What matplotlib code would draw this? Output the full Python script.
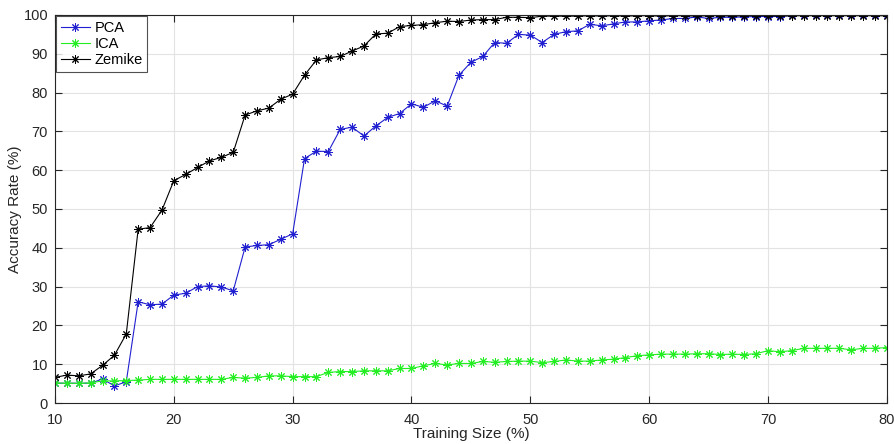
import numpy as np
import matplotlib.pyplot as plt

plt.rcParams['font.family'] = ['Liberation Sans', 'DejaVu Sans']

# training size (%)
train_size = list(range(10, 81))

pca = [5.1, 5.1, 5.1, 5.1, 6.2, 4.4, 5.5, 26.1, 25.3, 25.5,
       27.8, 28.3, 30.0, 30.2, 29.9, 28.9, 40.2, 40.6, 40.8, 42.2,
       43.6, 63.0, 64.9, 64.8, 70.5, 71.1, 68.8, 71.4, 73.6, 74.6,
       77.1, 76.2, 77.9, 76.5, 84.5, 87.8, 89.3, 92.9, 92.7, 95.0,
       94.8, 92.9, 95.0, 95.7, 95.9, 97.6, 97.2, 97.7, 98.2, 98.2,
       98.5, 98.7, 99.1, 99.1, 99.5, 99.1, 99.4, 99.4, 99.5, 99.6,
       99.6, 99.6, 99.9, 99.9, 99.9, 99.9, 99.9, 100.0, 99.9, 99.9,
       100.0]

ica = [5.2, 5.1, 5.1, 5.2, 5.7, 5.7, 5.8, 5.9, 6.1, 6.1,
       6.1, 6.1, 6.1, 6.1, 6.1, 6.6, 6.4, 6.6, 7.0, 7.0,
       6.8, 6.8, 6.8, 7.9, 8.1, 8.1, 8.3, 8.3, 8.3, 8.9,
       8.9, 9.6, 10.2, 9.8, 10.2, 10.2, 10.7, 10.5, 10.7, 10.8,
       10.8, 10.4, 10.7, 11.1, 10.8, 10.8, 11.1, 11.3, 11.7, 12.2,
       12.4, 12.6, 12.6, 12.6, 12.7, 12.7, 12.5, 12.6, 12.5, 12.7,
       13.5, 13.2, 13.5, 14.1, 14.1, 14.1, 14.1, 13.7, 14.1, 14.1,
       14.3]

zernike = [6.6, 7.2, 7.0, 7.5, 9.7, 12.3, 17.8, 44.8, 45.2, 49.7,
           57.3, 58.9, 60.7, 62.4, 63.3, 64.6, 74.2, 75.3, 76.0, 78.3,
           79.6, 84.5, 88.4, 89.0, 89.3, 90.7, 92.0, 95.1, 95.3, 97.0,
           97.3, 97.5, 98.0, 98.4, 98.3, 98.7, 98.8, 98.8, 99.4, 99.4,
           99.3, 99.7, 99.7, 99.7, 99.7, 99.8, 99.7, 99.8, 99.7, 99.8,
           99.8, 99.7, 99.8, 99.8, 99.7, 99.8, 99.8, 99.7, 99.8, 99.8,
           99.8, 99.7, 99.8, 99.8, 99.8, 99.8, 99.8, 99.8, 99.8, 99.8,
           99.8]

fig = plt.figure(figsize=(8.94, 4.44), dpi=100)
ax = fig.add_axes([0.0615, 0.0923, 0.9305, 0.874])

star = (8, 2, 0)
style = dict(marker=star, markersize=6, markeredgewidth=0.7, linewidth=0.8)
ax.plot(train_size, pca, color='#2020d0', label='PCA', **style)
ax.plot(train_size, ica, color='#22ee22', label='ICA', **style)
ax.plot(train_size, zernike, color='black', label='Zemike', **style)

ax.set_xlim(10, 80)
ax.set_ylim(0, 100)
ax.set_xticks(range(10, 81, 10))
ax.set_yticks(range(0, 101, 10))
ax.grid(True, color='#e3e3e3', linewidth=0.8)
ax.set_axisbelow(True)
ax.tick_params(direction='in', length=5, labelsize=10.5, colors='#262626',
               top=True, right=True)
ax.tick_params(axis='x', pad=7)
ax.tick_params(axis='y', pad=5)
for s in ax.spines.values():
    s.set_color('#262626')
    s.set_linewidth(0.8)

ax.set_xlabel('Training Size (%)', fontsize=11, color='#262626', labelpad=0.5)
ax.set_ylabel('Accuracy Rate (%)', fontsize=11, color='#262626', labelpad=1)

leg = ax.legend(loc='upper left', fontsize=10.5, frameon=True, fancybox=False,
                borderaxespad=0.1, handlelength=2, handletextpad=0.3,
                borderpad=0.3, labelspacing=0.15)
leg.get_frame().set_edgecolor('#262626')
leg.get_frame().set_linewidth(0.8)

plt.savefig('out.png', dpi=100)
